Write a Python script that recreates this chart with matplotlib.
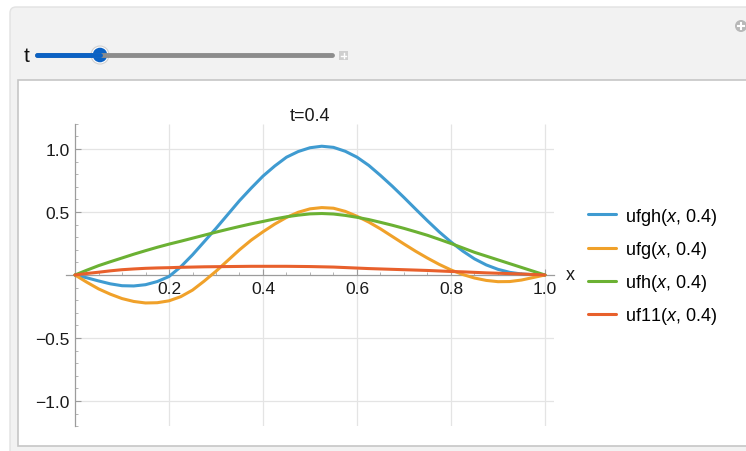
import numpy as np
import matplotlib
matplotlib.use('Agg')
import matplotlib.pyplot as plt
import matplotlib.patches as patches
from matplotlib.ticker import MultipleLocator, FixedLocator, FixedFormatter

plt.rcParams['font.family'] = ['Liberation Sans', 'DejaVu Sans']
plt.rcParams['mathtext.fontset'] = 'custom'
plt.rcParams['mathtext.it'] = 'Liberation Sans:italic'
plt.rcParams['mathtext.rm'] = 'Liberation Sans'

# ------------------------------------------------------------
# data: four solutions sampled at t = 0.4
# ------------------------------------------------------------
t_value = 0.4
x_vals = [0.0, 0.025, 0.05, 0.075, 0.1, 0.125, 0.15, 0.175, 0.2, 0.225,
          0.25, 0.275, 0.3, 0.325, 0.35, 0.375, 0.4, 0.425, 0.45, 0.475,
          0.5, 0.525, 0.55, 0.575, 0.6, 0.625, 0.65, 0.675, 0.7, 0.725,
          0.75, 0.775, 0.8, 0.825, 0.85, 0.875, 0.9, 0.925, 0.95, 0.975, 1.0]
ufgh = [0.0, -0.022, -0.047, -0.07, -0.085, -0.087, -0.077, -0.052, -0.012, 0.065,
        0.16, 0.265, 0.37, 0.48, 0.59, 0.69, 0.785, 0.865, 0.935, 0.98,
        1.01, 1.022, 1.013, 0.982, 0.935, 0.87, 0.79, 0.705, 0.615, 0.522,
        0.43, 0.342, 0.262, 0.19, 0.128, 0.08, 0.045, 0.021, 0.008, 0.002, 0.0]
ufg = [0.0, -0.057, -0.11, -0.152, -0.187, -0.21, -0.222, -0.22, -0.205, -0.172,
       -0.12, -0.048, 0.03, 0.115, 0.2, 0.277, 0.343, 0.404, 0.457, 0.498,
       0.525, 0.535, 0.53, 0.505, 0.466, 0.42, 0.366, 0.306, 0.246, 0.188,
       0.134, 0.084, 0.04, 0.004, -0.024, -0.043, -0.053, -0.052, -0.04, -0.02, 0.0]
ufh = [0.0, 0.038, 0.074, 0.105, 0.135, 0.165, 0.193, 0.22, 0.245, 0.268,
       0.292, 0.316, 0.34, 0.363, 0.385, 0.406, 0.425, 0.445, 0.462, 0.475,
       0.485, 0.488, 0.484, 0.473, 0.458, 0.44, 0.418, 0.395, 0.37, 0.343,
       0.315, 0.283, 0.25, 0.215, 0.18, 0.15, 0.12, 0.09, 0.06, 0.03, 0.0]
uf11 = [0.0, 0.012, 0.022, 0.033, 0.042, 0.048, 0.053, 0.056, 0.058, 0.061,
        0.063, 0.065, 0.066, 0.067, 0.068, 0.069, 0.069, 0.069, 0.069, 0.068,
        0.067, 0.065, 0.063, 0.059, 0.055, 0.051, 0.048, 0.045, 0.042, 0.039,
        0.036, 0.032, 0.028, 0.025, 0.021, 0.017, 0.014, 0.011, 0.008, 0.004, 0.0]

series_names = ['ufgh', 'ufg', 'ufh', 'uf11']
series_colors = ['#3f9bd1', '#f0a12a', '#6bb133', '#e8602c']

x_ticks = [0.2, 0.4, 0.6, 0.8, 1.0]
x_tick_labels = ['0.2', '0.4', '0.6', '0.8', '1.0']
y_ticks = [-1.0, -0.5, 0.5, 1.0]
y_tick_labels = ['\u22121.0', '\u22120.5', '0.5', '1.0']

W, H = 746, 452
fig = plt.figure(figsize=(W / 100, H / 100), dpi=100)
fig.patch.set_facecolor('white')

# ------------------------------------------------------------
# panel + slider, drawn in pixel coordinates
# ------------------------------------------------------------
ui = fig.add_axes([0, 0, 1, 1])
ui.set_xlim(0, W)
ui.set_ylim(H, 0)
ui.axis('off')

ui.add_patch(patches.FancyBboxPatch((10, 8), W + 20, H + 20,
                                    boxstyle='round,pad=0,rounding_size=6',
                                    facecolor='#f2f2f2', edgecolor='#e2e2e2', lw=1))
ui.add_patch(patches.Rectangle((18, 81), W, 366, facecolor='white',
                               edgecolor='#c6c6c6', lw=1.2))

ui.text(27, 57, 't', fontsize=15, ha='center', va='center', color='#111111')
ui.plot([37, 332], [56, 56], color='#8c8c8c', lw=3.5, solid_capstyle='round')
ui.plot([37, 100], [56, 56], color='#0b62c4', lw=3.5, solid_capstyle='round')
ui.add_patch(patches.Circle((100, 56), 9, facecolor='white', edgecolor='#d0d0d0', lw=0.8))
ui.add_patch(patches.Circle((100, 56), 7.3, facecolor='#0b62c4', edgecolor='none'))
ui.add_patch(patches.Rectangle((339, 52), 9, 9, facecolor='#cfcfcf', edgecolor='none'))
ui.plot([341, 346], [56.5, 56.5], color='white', lw=1)
ui.plot([343.5, 343.5], [54, 59], color='white', lw=1)

ui.add_patch(patches.Circle((741, 27), 6, facecolor='#b8b8b8', edgecolor='none'))
ui.plot([738, 744], [27, 27], color='white', lw=1.5)
ui.plot([741, 741], [24, 30], color='white', lw=1.5)

# ------------------------------------------------------------
# plot area
# ------------------------------------------------------------
x_lo, x_hi = -0.02, 1.02
y_lo, y_hi = -1.2, 1.2
px_left, px_right = 65.6, 554.4
px_top, px_bottom = 124.8, 427.2
ax = fig.add_axes([px_left / W, 1 - px_bottom / H,
                   (px_right - px_left) / W, (px_bottom - px_top) / H])
ax.patch.set_alpha(0)
ax.set_xlim(x_lo, x_hi)
ax.set_ylim(y_lo, y_hi)

grid_kw = dict(color='#e4e4e4', lw=0.9, zorder=0)
ax.vlines(x_ticks, y_lo, y_hi, **grid_kw)
ax.hlines(y_ticks, 0, x_hi, **grid_kw)

for name, vals, col in zip(series_names, [ufgh, ufg, ufh, uf11], series_colors):
    ax.plot(x_vals, vals, color=col, lw=2.2, solid_joinstyle='round',
            solid_capstyle='round', label=f'{name}($x$, {t_value})', zorder=3)

for side in ['top', 'right']:
    ax.spines[side].set_visible(False)
ax.spines['left'].set_position(('data', 0))
ax.spines['bottom'].set_position(('data', 0))
for side in ['left', 'bottom']:
    ax.spines[side].set_color('#9c9c9c')
    ax.spines[side].set_linewidth(0.9)

ax.xaxis.set_major_locator(FixedLocator(x_ticks))
ax.xaxis.set_major_formatter(FixedFormatter(x_tick_labels))
ax.xaxis.set_minor_locator(MultipleLocator(0.05))
ax.yaxis.set_major_locator(FixedLocator(y_ticks))
ax.yaxis.set_major_formatter(FixedFormatter(y_tick_labels))
ax.yaxis.set_minor_locator(MultipleLocator(0.1))
ax.tick_params(which='major', direction='in', length=4, width=0.8,
               color='#9c9c9c', labelsize=12.5, labelcolor='#1a1a1a', pad=4)
ax.tick_params(which='minor', direction='in', length=2.2, width=0.6, color='#a8a8a8')

ax.set_title(f't={t_value}', fontsize=13, color='#1a1a1a', pad=3)
ax.annotate('x', xy=(1.0, 0), xycoords=('axes fraction', 'data'),
            xytext=(8, 0), textcoords='offset points',
            ha='left', va='center', fontsize=13, color='#1a1a1a',
            annotation_clip=False)

fig.legend(loc='center left', bbox_to_anchor=(588 / W, 1 - 267 / H),
           frameon=False, fontsize=13, handlelength=1.55, handletextpad=0.5,
           labelspacing=0.68, borderpad=0, borderaxespad=0)

fig.savefig('out.png', dpi=100)
